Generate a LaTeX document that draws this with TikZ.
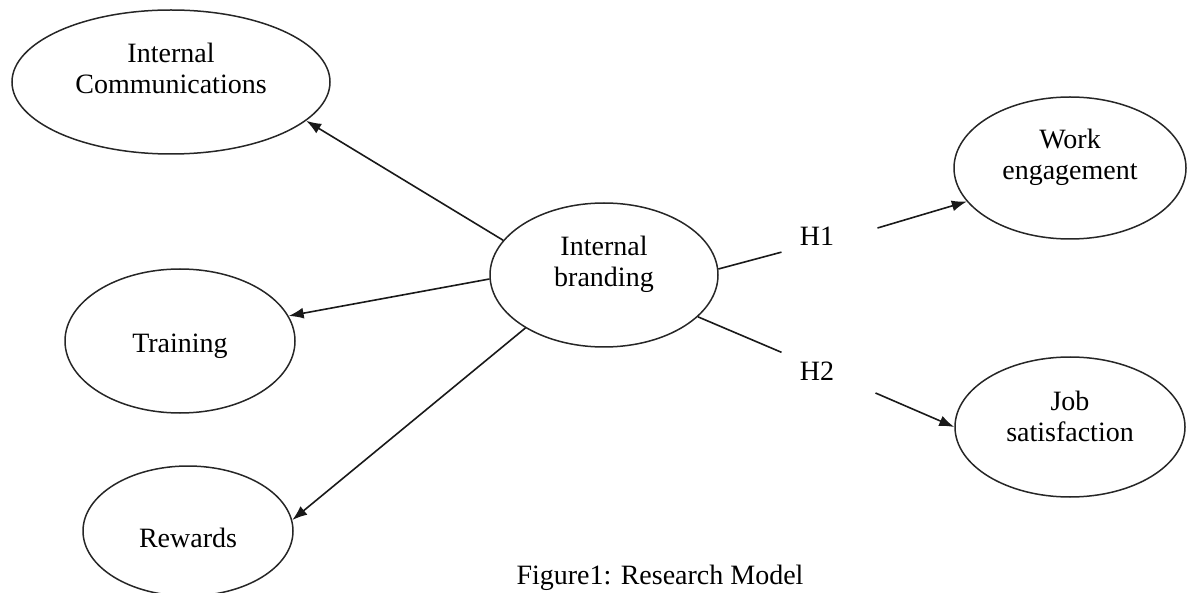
\documentclass[tikz,border=0pt]{standalone}
\usepackage{fontspec}
\setmainfont{Liberation Serif}
\usetikzlibrary{shapes.geometric,arrows.meta}
\begin{document}
\begin{tikzpicture}[x=0.5pt,y=0.5pt,
  oval/.style={draw=black!85, line width=0.75pt, ellipse, inner sep=0pt},
  lbl/.style={font=\fontsize{14pt}{15.5pt}\selectfont, align=center, inner sep=0pt, text=black},
  link/.style={draw=black!90, line width=0.8pt},
  arr/.style={link, -{Latex[length=7.5pt,width=5.5pt]}}]
\useasboundingbox (0,0) rectangle (1189,-593);
\clip (0,0) rectangle (1189,-593);
% ellipses
\node[oval, minimum width=159pt, minimum height=72pt] (ic) at (171,-82) {};
\node[oval, minimum width=115pt, minimum height=72pt] (tr) at (180,-341) {};
\node[oval, minimum width=105pt, minimum height=65pt] (rw) at (188,-531) {};
\node[oval, minimum width=114pt, minimum height=72pt] (ib) at (604,-275) {};
\node[oval, minimum width=116pt, minimum height=71pt] (we) at (1070,-168) {};
\node[oval, minimum width=115pt, minimum height=70pt] (js) at (1070,-427) {};
% texts
\node[lbl] (ict) at (171,-68) {Internal\\Communications};
\node[lbl] (trt) at (180,-346) {Training};
\node[lbl] (rwt) at (188,-538) {Rewards};
\node[lbl] (ibt) at (604,-264) {Internal\\branding};
\node[lbl] (wet) at (1070,-157) {Work\\engagement};
\node[lbl] (jst) at (1070,-416) {Job\\satisfaction};
\node[lbl] (h1) at (817,-236) {H1};
\node[lbl] (h2) at (817,-371) {H2};
\node[lbl, anchor=base] (cap) at (660,-584) {Figure1: Research Model};
% connectors
\draw[arr] (ib.161) -- (ic.-16);
\draw[arr] (ib.182) -- (tr.13);
\draw[arr] (ib.214) -- (rw.6);
\draw[link] (ib.3) -- ([xshift=-9pt,yshift=-3.25pt]h1.south west);
\draw[arr] ([xshift=21.5pt,yshift=4pt]h1.east) -- (we.198);
\draw[link] (ib.-24) -- ([xshift=-9pt,yshift=4.5pt]h2.north west);
\draw[arr] ([xshift=20.5pt,yshift=-11pt]h2.east) -- (js.180);
\end{tikzpicture}
\end{document}
